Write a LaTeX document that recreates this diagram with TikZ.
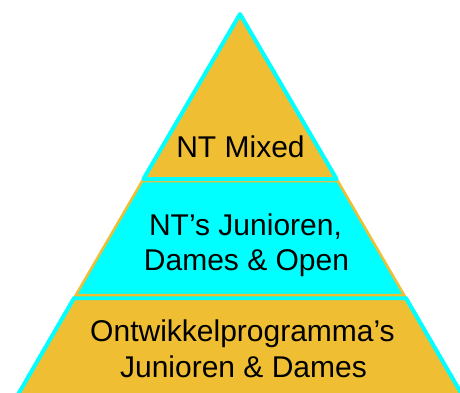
\documentclass[tikz,border=0pt]{standalone}
\usepackage{fontspec}
\setmainfont{Liberation Sans}
\definecolor{pgold}{HTML}{EFBE32}
\definecolor{pcyan}{HTML}{00FFFF}
\begin{document}
\begin{tikzpicture}[x=1pt,y=-1pt,
  goldlayer/.style={fill=pgold,draw=pcyan,line width=4pt,line join=round},
  cyanlayer/.style={fill=pcyan,draw=pgold,line width=2.5pt,line join=miter},
  lbl/.style={anchor=base,inner sep=0pt,font=\fontsize{30}{36}\selectfont,text=black}]
\useasboundingbox (0,0) rectangle (460,392);
\clip (0,0) rectangle (460,392);
% bottom layer
\draw[goldlayer] (74.1,298) -- (405.9,298) -- (465.2,400) -- (14.8,400) -- cycle;
% middle layer
\draw[cyanlayer] (142.2,181) -- (337.8,181) -- (404.1,295) -- (75.9,295) -- cycle;
% top layer
\draw[goldlayer] (240,14) -- (336.6,179) -- (143.4,179) -- cycle;
% labels
\node[lbl] (top) at (240.5,157) {NT Mixed};
\node[lbl] (mid1) at (245.5,235) {NT’s Junioren,};
\node[lbl] (mid2) at (246.5,270) {Dames \& Open};
\node[lbl] (bot1) at (242.5,341) {Ontwikkelprogramma’s};
\node[lbl] (bot2) at (243.5,377) {Junioren \& Dames};
\end{tikzpicture}
\end{document}
